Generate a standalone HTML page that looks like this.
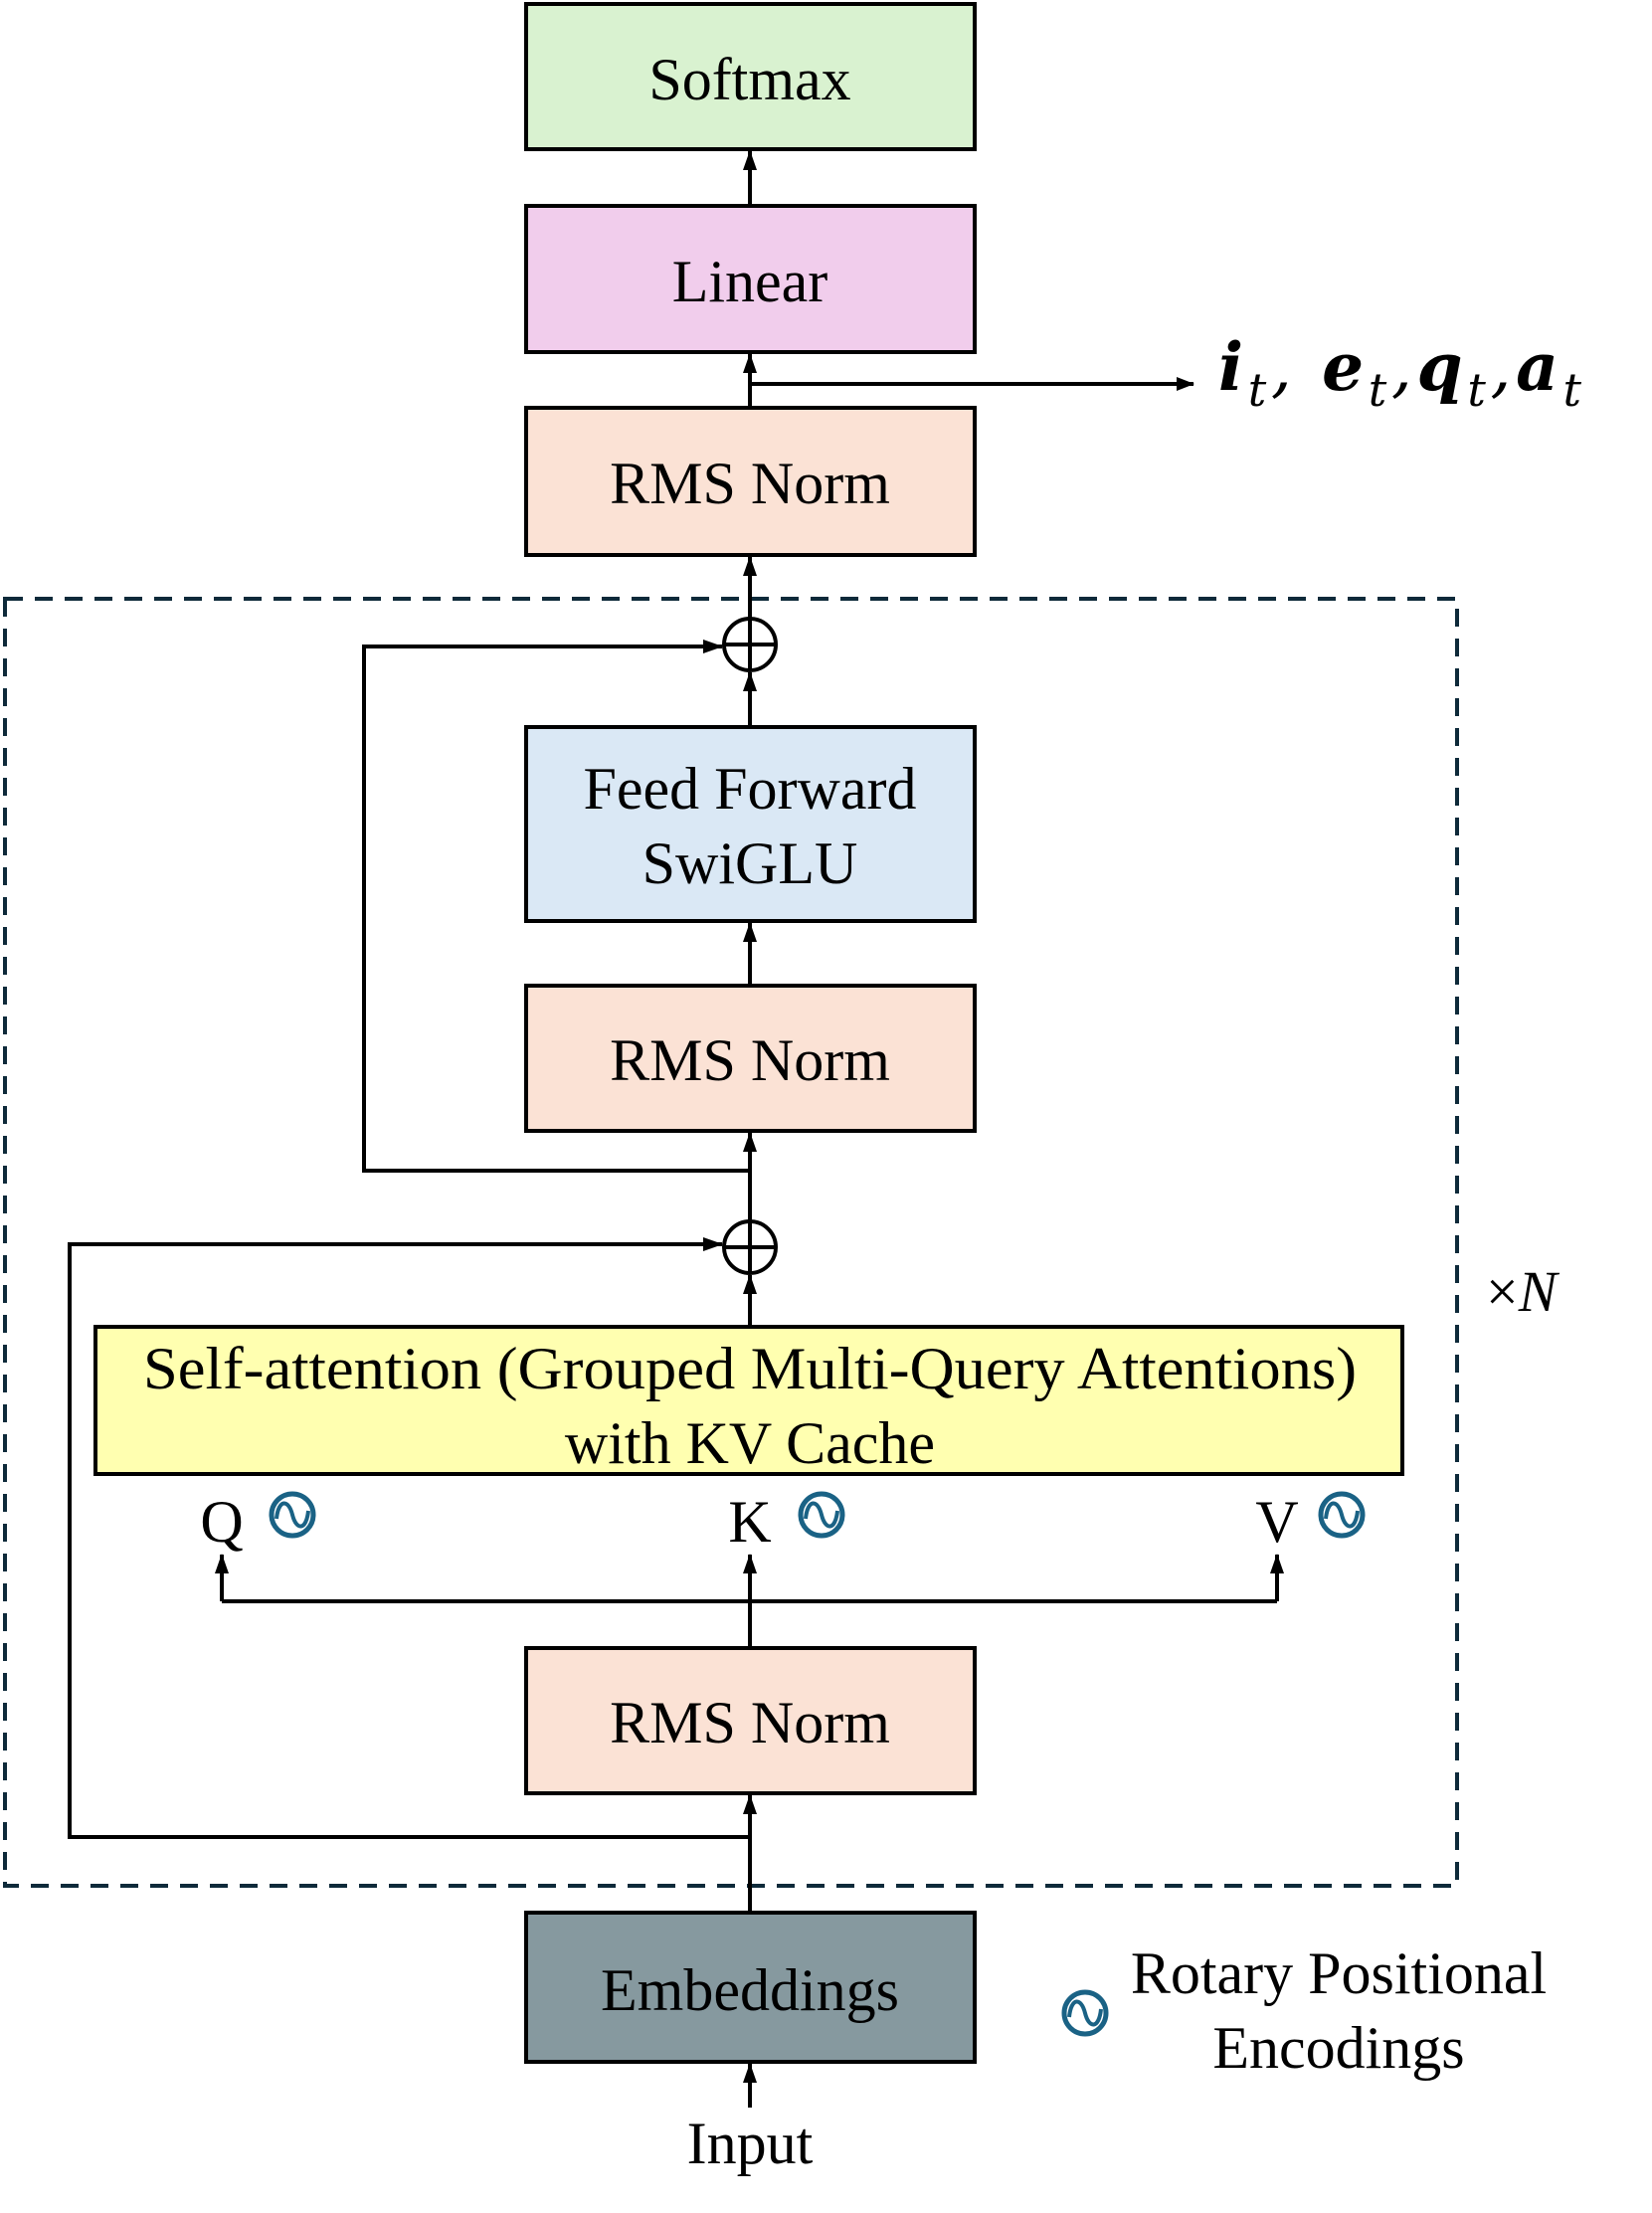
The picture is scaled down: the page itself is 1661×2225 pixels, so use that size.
<!DOCTYPE html>
<html><head><meta charset="utf-8"><style>
html,body{margin:0;padding:0;background:#fff;}
svg{display:block;}
text{font-family:"Liberation Serif",serif;fill:#000;}
</style></head><body>
<svg width="1661" height="2225" viewBox="0 0 1661 2225" xmlns="http://www.w3.org/2000/svg">
<defs>
<marker id="ah" markerWidth="20" markerHeight="16" refX="19" refY="8" orient="auto" markerUnits="userSpaceOnUse" viewBox="0 0 20 16">
<path d="M0,1 L20,8 L0,15 z" fill="#000"/></marker>
<marker id="ah2" markerWidth="18" markerHeight="16" refX="17" refY="8" orient="auto" markerUnits="userSpaceOnUse" viewBox="0 0 18 16">
<path d="M0,1 L18,8 L0,15 z" fill="#000"/></marker>
<g id="rot"><circle cx="0" cy="0" r="21" fill="none" stroke="#1a6285" stroke-width="5"/>
<path d="M-16,4 C-14,-16 -4,-16 0,0 C4,16 14,16 16,-4" fill="none" stroke="#1a6285" stroke-width="4"/></g>
</defs>

<rect x="5" y="602" width="1460" height="1294" fill="none" stroke="#0e2a3a" stroke-width="4" stroke-dasharray="18,12"/>

<rect x="529" y="4" width="451" height="146" fill="#d9f2d0" stroke="#000" stroke-width="4"/>
<rect x="529" y="207" width="451" height="147" fill="#f1cdec" stroke="#000" stroke-width="4"/>
<rect x="529" y="410" width="451" height="148" fill="#fbe2d5" stroke="#000" stroke-width="4"/>
<rect x="529" y="731" width="451" height="195" fill="#dae8f5" stroke="#000" stroke-width="4"/>
<rect x="529" y="991" width="451" height="146" fill="#fbe2d5" stroke="#000" stroke-width="4"/>
<rect x="96" y="1334" width="1314" height="148" fill="#ffffb0" stroke="#000" stroke-width="4"/>
<rect x="529" y="1657" width="451" height="146" fill="#fbe2d5" stroke="#000" stroke-width="4"/>
<rect x="529" y="1923" width="451" height="150" fill="#86999f" stroke="#000" stroke-width="4"/>

<g font-size="60" text-anchor="middle" dominant-baseline="central">
<text x="754" y="80">Softmax</text>
<text x="754" y="283">Linear</text>
<text x="754" y="486">RMS Norm</text>
<text x="754" y="793">Feed Forward</text>
<text x="754" y="868">SwiGLU</text>
<text x="754" y="1066">RMS Norm</text>
<text x="754" y="1376" textLength="1220" lengthAdjust="spacingAndGlyphs">Self-attention (Grouped Multi-Query Attentions)</text>
<text x="754" y="1451">with KV Cache</text>
<text x="754" y="1732">RMS Norm</text>
<text x="754" y="2001">Embeddings</text>
<text x="754" y="2155">Input</text>
<text x="223" y="1530">Q</text>
<text x="754" y="1530">K</text>
<text x="1284" y="1530">V</text>
<text x="1346" y="1984">Rotary Positional</text>
<text x="1346" y="2059">Encodings</text>
</g>
<text x="1494" y="1318" font-size="58"><tspan>×</tspan><tspan font-style="italic">N</tspan></text>

<text x="1225" y="392" font-size="66" font-weight="bold" font-style="italic" style="font-family:'DejaVu Serif','Liberation Serif',serif" textLength="365" lengthAdjust="spacing"><tspan>i</tspan><tspan font-weight="normal" font-size="46" dy="16">t</tspan><tspan font-weight="normal" dy="-16">, </tspan><tspan>e</tspan><tspan font-weight="normal" font-size="46" dy="16">t</tspan><tspan font-weight="normal" dy="-16">,</tspan><tspan>q</tspan><tspan font-weight="normal" font-size="46" dy="16">t</tspan><tspan font-weight="normal" dy="-16">,</tspan><tspan>a</tspan><tspan font-weight="normal" font-size="46" dy="16">t</tspan></text>

<use href="#rot" x="294" y="1523"/>
<use href="#rot" x="826" y="1523"/>
<use href="#rot" x="1349" y="1523"/>
<use href="#rot" x="1091" y="2024"/>

<g stroke="#000" stroke-width="4" fill="none">
<line x1="754" y1="206" x2="754" y2="152" marker-end="url(#ah)"/>
<line x1="754" y1="409" x2="754" y2="356" marker-end="url(#ah)"/>
<line x1="754" y1="386" x2="1200" y2="386" marker-end="url(#ah2)"/>
<line x1="754" y1="621" x2="754" y2="560" marker-end="url(#ah)"/>
<circle cx="754" cy="648" r="26"/>
<line x1="728" y1="648" x2="780" y2="648"/>
<line x1="754" y1="621" x2="754" y2="675"/>
<line x1="754" y1="730" x2="754" y2="676" marker-end="url(#ah)"/>
<polyline points="754,1177 366,1177 366,650 726,650" marker-end="url(#ah)"/>
<line x1="754" y1="990" x2="754" y2="928" marker-end="url(#ah)"/>
<line x1="754" y1="1227" x2="754" y2="1139" marker-end="url(#ah)"/>
<circle cx="754" cy="1254" r="26"/>
<line x1="728" y1="1254" x2="780" y2="1254"/>
<line x1="754" y1="1227" x2="754" y2="1281"/>
<line x1="754" y1="1333" x2="754" y2="1282" marker-end="url(#ah)"/>
<polyline points="754,1847 70,1847 70,1251 726,1251" marker-end="url(#ah)"/>
<line x1="754" y1="1656" x2="754" y2="1563" marker-end="url(#ah)"/>
<polyline points="223,1610 223,1563" marker-end="url(#ah)"/>
<polyline points="1284,1610 1284,1563" marker-end="url(#ah)"/>
<line x1="223" y1="1610" x2="1284" y2="1610"/>
<line x1="754" y1="1922" x2="754" y2="1805" marker-end="url(#ah)"/>
<line x1="754" y1="2119" x2="754" y2="2075" marker-end="url(#ah)"/>
</g>
</svg>
</body></html>
